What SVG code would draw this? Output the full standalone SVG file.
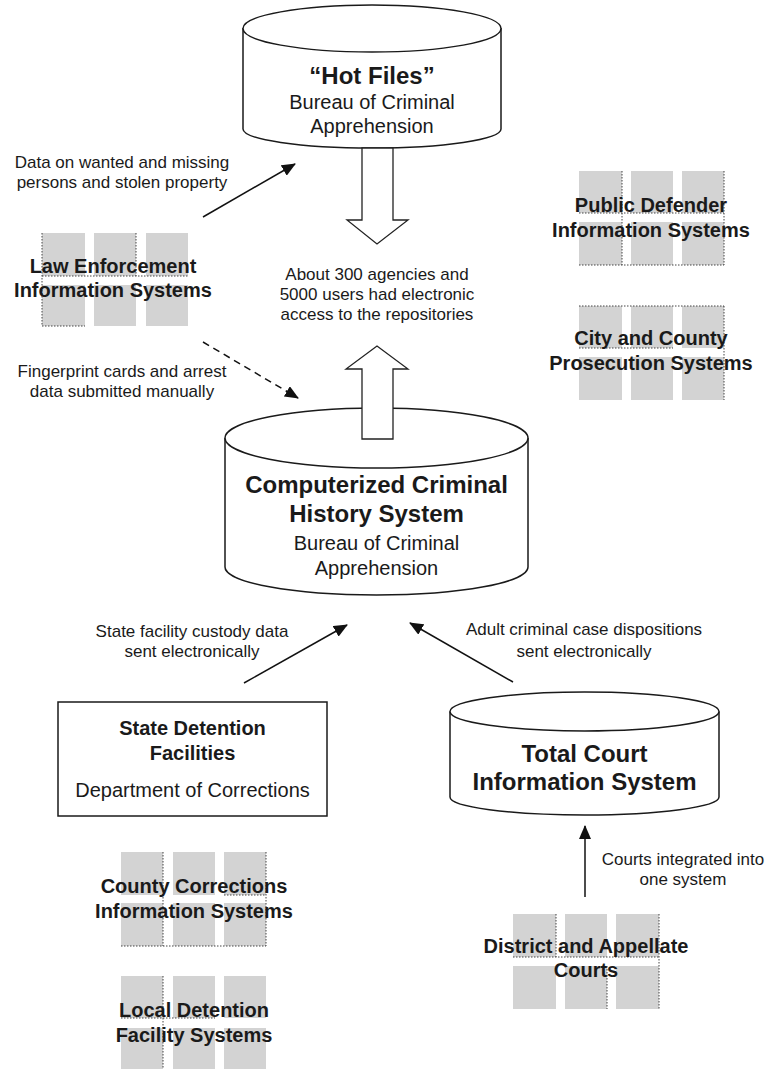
<svg xmlns="http://www.w3.org/2000/svg" width="775" height="1069" viewBox="0 0 775 1069">
<defs>
<style>
text{font-family:"Liberation Sans",Arial,sans-serif;fill:#1a1a1a;text-anchor:middle}
.b24{font-size:24px;font-weight:bold}
.b20{font-size:20px;font-weight:bold}
.r20{font-size:20px}
.lbl{font-size:17px}
.cyl{fill:#fff;stroke:#1a1a1a;stroke-width:1.5}
.blk{fill:#d3d3d3}
.dot{stroke:#444;stroke-width:1;stroke-dasharray:1.5 1.5;fill:none}
.con{stroke:#111;stroke-width:1.5;fill:none}
.hol{fill:#fff;stroke:#222;stroke-width:1.3}
</style>
<marker id="ah" viewBox="0 0 14 12" refX="13" refY="6" markerWidth="14" markerHeight="12" orient="auto" markerUnits="userSpaceOnUse"><path d="M0,0 L14,6 L0,12 z" fill="#111"/></marker>
</defs>
<rect width="775" height="1069" fill="#fff"/>

<g id="hot-files">
<path class="cyl" d="M243,28 L243,129 A129,19 0 0 0 501,129 L501,28"/>
<ellipse class="cyl" cx="372" cy="28.5" rx="129" ry="23.5"/>
<text class="b24" x="372" y="84">&#8220;Hot Files&#8221;</text>
<text class="r20" x="372" y="109">Bureau of Criminal</text>
<text class="r20" x="372" y="133">Apprehension</text>
</g>

<g id="law-enforcement">
<rect class="blk" x="42" y="233" width="43" height="43"/><rect class="blk" x="94" y="233" width="42" height="43"/><rect class="blk" x="146" y="233" width="42" height="43"/>
<rect class="blk" x="42" y="285" width="43" height="41"/><rect class="blk" x="94" y="285" width="42" height="41"/><rect class="blk" x="146" y="285" width="42" height="41"/>
<path class="dot" d="M42,233 V326 M136,233 V276 M42,276 H188 M42,326 H85"/>
<text class="b20" x="113" y="273">Law Enforcement</text>
<text class="b20" x="113" y="297">Information Systems</text>
</g>

<g id="public-defender">
<rect class="blk" x="579" y="171" width="43" height="42"/><rect class="blk" x="631" y="171" width="42" height="42"/><rect class="blk" x="682" y="171" width="42" height="42"/>
<rect class="blk" x="579" y="222" width="43" height="43"/><rect class="blk" x="631" y="222" width="42" height="43"/><rect class="blk" x="682" y="222" width="42" height="43"/>
<path class="dot" d="M622,171 V265 M724,171 V265 M579,213 H724 M579,265 H724"/>
<text class="b20" x="651" y="212">Public Defender</text>
<text class="b20" x="651" y="237">Information Systems</text>
</g>

<g id="prosecution">
<rect class="blk" x="579" y="306" width="43" height="42"/><rect class="blk" x="631" y="306" width="42" height="42"/><rect class="blk" x="682" y="306" width="42" height="42"/>
<rect class="blk" x="579" y="357" width="43" height="43"/><rect class="blk" x="631" y="357" width="42" height="43"/><rect class="blk" x="682" y="357" width="42" height="43"/>
<path class="dot" d="M579,306 H724 M724,306 V400 M579,348 H673"/>
<text class="b20" x="651" y="345">City and County</text>
<text class="b20" x="651" y="370">Prosecution Systems</text>
</g>

<g id="cchs">
<path class="cyl" d="M225,438 L225,567 A151.5,28 0 0 0 528,567 L528,438"/>
<ellipse class="cyl" cx="376.5" cy="438" rx="151.5" ry="30"/>
<text class="b24" x="376.5" y="493">Computerized Criminal</text>
<text class="b24" x="376.5" y="522">History System</text>
<text class="r20" x="376.5" y="550">Bureau of Criminal</text>
<text class="r20" x="376.5" y="575">Apprehension</text>
</g>

<g id="state-detention">
<rect x="58" y="702" width="269" height="114" fill="#fff" stroke="#1a1a1a" stroke-width="1.5"/>
<text class="b20" x="192.5" y="735">State Detention</text>
<text class="b20" x="192.5" y="760">Facilities</text>
<text class="r20" x="192.5" y="797">Department of Corrections</text>
</g>

<g id="total-court">
<path class="cyl" d="M450,711.5 L450,797 A134.5,18 0 0 0 719,797 L719,711.5"/>
<ellipse class="cyl" cx="584.5" cy="711.5" rx="134.5" ry="19.5"/>
<text class="b24" x="584.5" y="762">Total Court</text>
<text class="b24" x="584.5" y="790">Information System</text>
</g>

<g id="county-corrections">
<rect class="blk" x="121" y="852" width="42" height="43"/><rect class="blk" x="173" y="852" width="42" height="43"/><rect class="blk" x="224" y="852" width="42" height="43"/>
<rect class="blk" x="121" y="903" width="42" height="43"/><rect class="blk" x="173" y="903" width="42" height="43"/><rect class="blk" x="224" y="903" width="42" height="43"/>
<path class="dot" d="M163,852 V946 M224,895 H266 M121,946 H266 M266,852 V946"/>
<text class="b20" x="194" y="893">County Corrections</text>
<text class="b20" x="194" y="918">Information Systems</text>
</g>

<g id="local-detention">
<rect class="blk" x="121" y="976" width="42" height="42"/><rect class="blk" x="173" y="976" width="42" height="42"/><rect class="blk" x="224" y="976" width="42" height="42"/>
<rect class="blk" x="121" y="1028" width="42" height="43"/><rect class="blk" x="173" y="1028" width="42" height="43"/><rect class="blk" x="224" y="1028" width="42" height="43"/>
<path class="dot" d="M163,976 V1069 M121,1018 H215"/>
<text class="b20" x="194" y="1017">Local Detention</text>
<text class="b20" x="194" y="1042">Facility Systems</text>
</g>

<g id="district-courts">
<rect class="blk" x="513" y="914" width="43" height="43"/><rect class="blk" x="565" y="914" width="42" height="43"/><rect class="blk" x="616" y="914" width="43" height="43"/>
<rect class="blk" x="513" y="966" width="43" height="43"/><rect class="blk" x="565" y="966" width="42" height="43"/><rect class="blk" x="616" y="966" width="43" height="43"/>
<path class="dot" d="M556,914 V957 M659,914 V1009 M513,957 H659 M607,966 V1009"/>
<text class="b20" x="586" y="953">District and Appellate</text>
<text class="b20" x="586" y="977">Courts</text>
</g>

<g id="connectors">
<polygon class="hol" points="362,148 393,148 393,220 408,220 377,244 347,220 362,220"/>
<polygon class="hol" points="362,439 393,439 393,369 408,369 377,346 346,369 362,369"/>
<line class="con" x1="203" y1="217" x2="295" y2="164" marker-end="url(#ah)"/>
<line class="con" x1="203" y1="342" x2="298" y2="398" stroke-dasharray="7 5" marker-end="url(#ah)"/>
<line class="con" x1="244" y1="683" x2="347" y2="625" marker-end="url(#ah)"/>
<line class="con" x1="513" y1="682" x2="410" y2="623" marker-end="url(#ah)"/>
<line class="con" x1="585" y1="897" x2="585" y2="826" marker-end="url(#ah)"/>
</g>

<g id="labels">
<text class="lbl" x="122" y="168">Data on wanted and missing</text>
<text class="lbl" x="122" y="188">persons and stolen property</text>
<text class="lbl" x="377" y="280">About 300 agencies and</text>
<text class="lbl" x="377" y="300">5000 users had electronic</text>
<text class="lbl" x="377" y="320">access to the repositories</text>
<text class="lbl" x="122" y="377">Fingerprint cards and arrest</text>
<text class="lbl" x="122" y="397">data submitted manually</text>
<text class="lbl" x="192" y="637">State facility custody data</text>
<text class="lbl" x="192" y="657">sent electronically</text>
<text class="lbl" x="584" y="635">Adult criminal case dispositions</text>
<text class="lbl" x="584" y="657">sent electronically</text>
<text class="lbl" x="683" y="865">Courts integrated into</text>
<text class="lbl" x="683" y="885">one system</text>
</g>
</svg>
